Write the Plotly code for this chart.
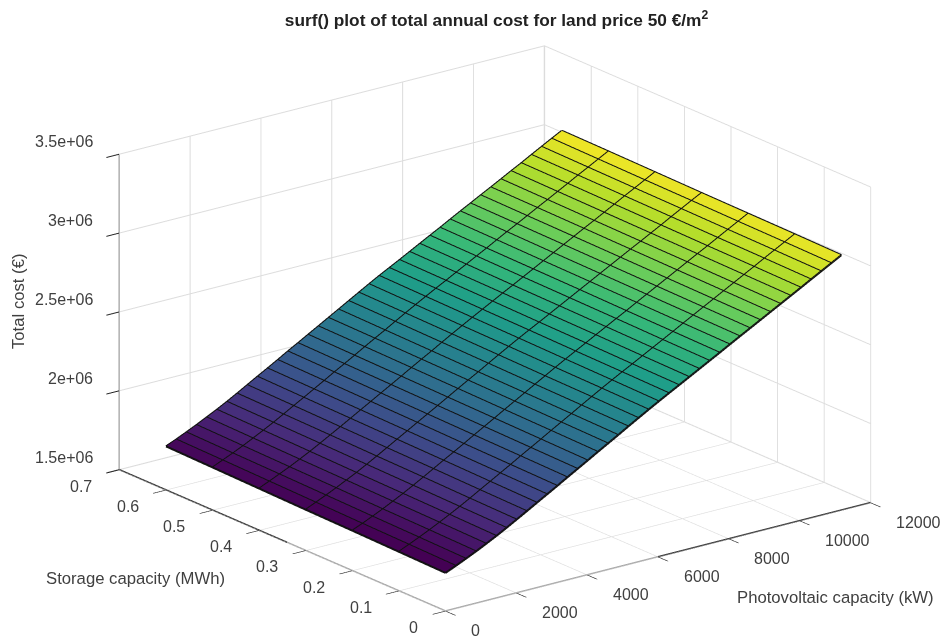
import plotly.graph_objects as go

pv_kw = [0,287,573,860,1146,1433,1720,2006,2293,2579,2866,3153,3439,3726,4012,4299,4586,4872,5159,5445,5732,6019,6305,6592,6878,7165,7452,7738,8025,8311,8598,8885,9171,9458,9744,10031,10318,10604,10891,11177]
storage_mwh = [0.0,0.1,0.2,0.3,0.4,0.5,0.6]
cost_s0 = [1741,1769,1798,1828,1860,1893,1928,1964,2001,2038,2075,2112,2150,2187,2224,2262,2299,2336,2374,2411,2448,2484,2519,2554,2589,2624,2659,2694,2730,2765,2800,2835,2870,2905,2940,2975,3011,3046,3081,3116]
cost_s1 = [1747,1775,1804,1834,1866,1899,1933,1969,2006,2043,2080,2117,2155,2192,2229,2267,2304,2341,2379,2416,2453,2489,2524,2558,2593,2628,2663,2698,2734,2769,2804,2839,2874,2909,2944,2979,3015,3050,3085,3120]
cost_s2 = [1753,1780,1809,1839,1871,1904,1939,1975,2012,2049,2085,2122,2160,2197,2234,2272,2309,2346,2383,2420,2457,2493,2528,2563,2598,2633,2668,2702,2738,2773,2808,2843,2878,2913,2948,2982,3018,3053,3088,3123]
cost_s3 = [1758,1786,1815,1845,1877,1909,1944,1980,2017,2054,2091,2128,2165,2202,2239,2277,2314,2350,2388,2425,2462,2498,2533,2567,2602,2637,2672,2707,2742,2777,2812,2847,2882,2916,2951,2986,3022,3057,3092,3126]
cost_s4 = [1764,1792,1821,1850,1882,1915,1950,1986,2022,2059,2096,2133,2170,2207,2244,2282,2319,2355,2393,2430,2466,2502,2537,2572,2607,2641,2676,2711,2746,2781,2816,2851,2886,2920,2955,2990,3026,3060,3095,3130]
cost_s5 = [1770,1798,1826,1856,1888,1921,1955,1991,2028,2064,2101,2138,2176,2212,2249,2287,2324,2360,2398,2435,2471,2507,2542,2576,2611,2646,2681,2715,2751,2786,2820,2855,2890,2924,2959,2994,3030,3064,3099,3134]
cost_s6 = [1776,1803,1832,1862,1894,1926,1960,1996,2033,2070,2106,2143,2181,2217,2254,2291,2328,2365,2402,2439,2476,2512,2546,2580,2615,2650,2685,2719,2755,2790,2824,2859,2893,2928,2963,2997,3033,3068,3103,3137]
cost_keur = [cost_s0, cost_s1, cost_s2, cost_s3, cost_s4, cost_s5, cost_s6]

x_ticks = [0,2000,4000,6000,8000,10000,12000]
y_ticks = [0,0.1,0.2,0.3,0.4,0.5,0.6,0.7]
y_labels = ["0","0.1","0.2","0.3","0.4","0.5","0.6","0.7"]
z_ticks = [1.5e6,2e6,2.5e6,3e6,3.5e6]
z_labels = ["1.5e+06","2e+06","2.5e+06","3e+06","3.5e+06"]
x_max, y_max, z_min, z_max = 12000, 0.7, 1.5e6, 3.5e6
y_axis_solid_from, x_axis_solid_from = 0.34, 6000

nx, ny = len(pv_kw), len(storage_mwh)
vx, vy, vz = [], [], []
for r in range(ny):
    for c in range(nx):
        vx.append(pv_kw[c]); vy.append(storage_mwh[r]); vz.append(cost_keur[r][c]*1000)
ii, jj, kk, cell = [], [], [], []
for r in range(ny-1):
    for c in range(nx-1):
        a = r*nx+c; b = a+1; d = a+nx; e = d+1
        ii += [a, a]; jj += [b, e]; kk += [e, d]
        v = cost_keur[r][c]*1000
        cell += [v, v]

fig = go.Figure()
fig.add_trace(go.Mesh3d(x=vx, y=vy, z=vz, i=ii, j=jj, k=kk, intensity=cell, intensitymode="cell",
                        colorscale="Viridis", cmin=1741000, cmax=3137000, showscale=False, flatshading=True,
                        lighting=dict(ambient=1, diffuse=0, specular=0, roughness=1, fresnel=0), hoverinfo="skip"))
lx, ly, lz = [], [], []
for r in range(ny):
    for c in range(nx):
        lx.append(pv_kw[c]); ly.append(storage_mwh[r]); lz.append(cost_keur[r][c]*1000)
    lx.append(None); ly.append(None); lz.append(None)
for c in range(nx):
    for r in range(ny):
        lx.append(pv_kw[c]); ly.append(storage_mwh[r]); lz.append(cost_keur[r][c]*1000)
    lx.append(None); ly.append(None); lz.append(None)
fig.add_trace(go.Scatter3d(x=lx, y=ly, z=lz, mode="lines", line=dict(color="#111111", width=4), hoverinfo="skip", showlegend=False))

def axis_line(xs, ys, color, width):
    fig.add_trace(go.Scatter3d(x=xs, y=ys, z=[z_min, z_min], mode="lines", hoverinfo="skip", showlegend=False,
                               line=dict(color=color, width=width)))
axis_line([0, 0], [y_max, y_axis_solid_from], "#3a3a3a", 3)
axis_line([0, 0], [y_axis_solid_from, 0], "#a8a8a8", 3)
axis_line([x_axis_solid_from, x_max], [0, 0], "#3a3a3a", 3)
axis_line([0, x_axis_solid_from], [0, 0], "#a8a8a8", 3)

axis = dict(showbackground=False, showgrid=True, gridcolor="#dcdcdc", gridwidth=2, showline=False,
            ticks="outside", ticklen=16, tickcolor="#222222", tickwidth=2, zeroline=False, showspikes=False,
            showticklabels=False, title=dict(text=""))
tfont = dict(family="Liberation Sans", size=16, color="#404040")
lfont = dict(family="Liberation Sans", size=16.7, color="#404040")
tick_ann = []
for v, t in zip(x_ticks, [str(v) for v in x_ticks]):
    tick_ann.append(dict(x=v, y=0, z=z_min, text=t, showarrow=False, xanchor="left", yanchor="middle", xshift=24, yshift=-20, font=tfont))
for v, t in zip(y_ticks, y_labels):
    tick_ann.append(dict(x=0, y=v, z=z_min, text=t, showarrow=False, xanchor="right", yanchor="middle", xshift=-25, yshift=-17, font=tfont))
for v, t in zip(z_ticks, z_labels):
    tick_ann.append(dict(x=0, y=y_max, z=v, text=t, showarrow=False, xanchor="right", yanchor="middle", xshift=-24, yshift=12, font=tfont))

K = 1.727
scene = dict(
    domain=dict(x=[0.0495, 0.9995], y=[0.0023, 0.9723]),
    aspectmode="manual", aspectratio=dict(x=K, y=K, z=0.624*K),
    xaxis=dict(axis, range=[-6,x_max+6], tickmode="array", tickvals=x_ticks),
    yaxis=dict(axis, range=[-0.0004,y_max+0.0004], tickmode="array", tickvals=y_ticks),
    zaxis=dict(axis, range=[z_min-1000,z_max], tickmode="array", tickvals=z_ticks, showline=True, linecolor="#808080", linewidth=2),
    annotations=tick_ann,
    camera=dict(projection=dict(type="orthographic"), up=dict(x=0,y=0,z=1), center=dict(x=0,y=0,z=0),
                eye=dict(x=-0.572*2, y=-0.7455*2, z=0.331*2)),
)
lab = dict(font=lfont, showarrow=False, xref="paper", yref="paper", xanchor="center", yanchor="middle")
fig.update_layout(
    width=943, height=640, margin=dict(l=0,r=0,t=0,b=0), paper_bgcolor="white", showlegend=False, scene=scene,
    title=dict(text="<b>surf() plot of total annual cost for land price 50 €/m<sup>2</sup></b>", x=496.5/943, xanchor="center",
               y=1-20/640, yanchor="middle", font=dict(family="Liberation Sans", size=17.3, color="#222222")),
    annotations=[
        dict(text="Storage capacity (MWh)", x=135/943, y=1-578/640, **lab),
        dict(text="Photovoltaic capacity (kW)", x=835/943, y=1-597/640, **lab),
        dict(text="Total cost (€)", x=18/943, y=1-301/640, textangle=-90, **lab),
    ],
)
fig.write_html("out.html", config=dict(displayModeBar=False),
               post_script="document.body.style.margin='0';document.documentElement.style.overflow='hidden';")
